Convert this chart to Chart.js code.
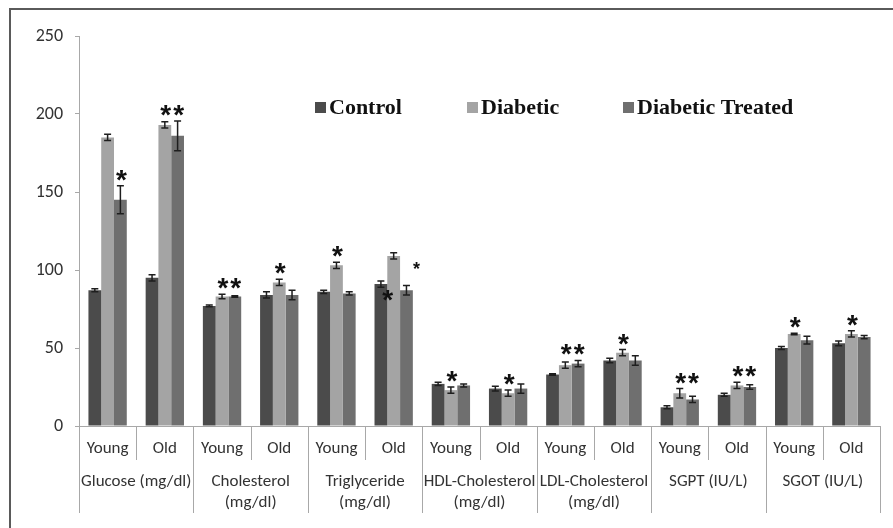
<!DOCTYPE html>
<html>
<head>
<meta charset="utf-8">
<script src="https://cdn.jsdelivr.net/npm/chart.js@4.4.0/dist/chart.umd.min.js"></script>
<style>
body { margin: 0; background: #fff; }
#wrap { position: relative; width: 893px; height: 528px; overflow: hidden; }
#frame { position: absolute; left: 9px; top: 8px; width: 920px; height: 560px; border-left: 2px solid #5a5a5a; border-top: 2px solid #5a5a5a; }
canvas { position: absolute; left: 0; top: 0; }
</style>
</head>
<body>
<div id="wrap"><div id="frame"></div><canvas id="chart" width="893" height="528"></canvas></div>
<script>
// categories
const AGE_LABELS = ['Young', 'Old', 'Young', 'Old', 'Young', 'Old', 'Young', 'Old', 'Young', 'Old', 'Young', 'Old', 'Young', 'Old'];
const GROUP_LABELS = ['Glucose (mg/dl)', ['Cholesterol', '(mg/dl)'], ['Triglyceride', '(mg/dl)'], ['HDL-Cholesterol', '(mg/dl)'], ['LDL-Cholesterol', '(mg/dl)'], 'SGPT (IU/L)', 'SGOT (IU/L)'];
const Y_TICKS = [0, 50, 100, 150, 200, 250];
const SERIES_NAMES = ['Control', 'Diabetic', 'Diabetic Treated'];

// values (mean) and error (+/-)
const CONTROL = [87, 95, 77, 84, 86, 91, 27, 24, 33, 42, 12, 20, 50, 53];
const CONTROL_ERR = [1, 2, 0.5, 2, 1, 2, 1, 1.5, 0.5, 1.5, 1, 1, 1, 1.5];
const DIABETIC = [185, 193, 83, 92, 103, 109, 23, 21, 39, 47, 21, 26, 59, 59];
const DIABETIC_ERR = [2, 2, 1.5, 2, 2, 2, 2, 2, 2, 2, 3, 2, 0.5, 2];
const TREATED = [145, 186, 83, 84, 85, 87, 26, 24, 40, 42, 17, 25, 55, 57];
const TREATED_ERR = [9, 9.5, 0.5, 3, 1, 3, 1, 3, 2, 3, 2, 1.5, 2.5, 1];

// significance marks
const CONTROL_STARS = ['', '', '', '', '', '', '', '', '', '', '', '', '', ''];
const DIABETIC_STARS = ['', '*', '*', '*', '*', '', '*', '*', '*', '*', '*', '*', '*', '*'];
const TREATED_STARS = ['*', '*', '*', '', '', '', '', '', '*', '', '*', '*', '', ''];
// odd ones on Triglyceride / Old: [category, series, value]
const EXTRA_STARS = [[5, 1, 85, 'big'], [5, 2, 103, 'small']];

const COLORS = ['#4b4b4b', '#a4a4a4', '#6f6f6f'];
const FONT = "Carlito, Lato, 'Open Sans', sans-serif";

let errors = [CONTROL_ERR, DIABETIC_ERR, TREATED_ERR];
let stars = [CONTROL_STARS, DIABETIC_STARS, TREATED_STARS];

const errorBars = {
    id: 'errorBars',
    afterDatasetsDraw(chart) {
        let ctx = chart.ctx;
        let y = chart.scales.y;
        ctx.save();
        ctx.strokeStyle = '#1e1e1e';
        ctx.lineWidth = 1.5;
        for (let d = 0; d < chart.data.datasets.length; d++) {
            let meta = chart.getDatasetMeta(d);
            let values = chart.data.datasets[d].data;
            for (let i = 0; i < meta.data.length; i++) {
                let bar = meta.data[i];
                let top = y.getPixelForValue(values[i] + errors[d][i]);
                let bot = y.getPixelForValue(values[i] - errors[d][i]);
                ctx.beginPath();
                ctx.moveTo(bar.x, top); ctx.lineTo(bar.x, bot);
                ctx.moveTo(bar.x - 3.5, top); ctx.lineTo(bar.x + 3.5, top);
                ctx.moveTo(bar.x - 3.5, bot); ctx.lineTo(bar.x + 3.5, bot);
                ctx.stroke();
            }
        }

        // asterisks - all stars of one category sit at the same height
        ctx.fillStyle = '#111';
        ctx.textAlign = 'center';
        ctx.textBaseline = 'alphabetic';
        ctx.font = "bold 28px 'Liberation Sans'";
        for (let i = 0; i < AGE_LABELS.length; i++) {
            let highest = null;
            for (let d = 0; d < stars.length; d++) {
                if (stars[d][i] == '') continue;
                let top = y.getPixelForValue(chart.data.datasets[d].data[i] + errors[d][i]);
                if (highest == null || top < highest) highest = top;
            }
            if (highest == null) continue;
            for (let d = 0; d < stars.length; d++) {
                if (stars[d][i] == '') continue;
                let bar = chart.getDatasetMeta(d).data[i];
                ctx.fillText(stars[d][i], bar.x + 1, highest - 13 + 16);
            }
        }
        for (let s of EXTRA_STARS) {
            let bar = chart.getDatasetMeta(s[1]).data[s[0]];
            let py = y.getPixelForValue(s[2]);
            if (s[3] == 'big') {
                ctx.font = "bold 28px 'Liberation Sans'";
                ctx.fillText('*', bar.x - 6, py + 16);
            } else {
                ctx.font = "bold 18px 'Liberation Sans'";
                ctx.fillText('*', bar.x + 10, py + 10);
            }
        }
        ctx.restore();
    }
};

const axisLines = {
    id: 'axisLines',
    afterDraw(chart) {
        let ctx = chart.ctx;
        let x = chart.scales.x;
        let x2 = chart.scales.x2;
        ctx.save();
        ctx.strokeStyle = '#a8a8a8';
        ctx.lineWidth = 1;
        for (let i = 0; i <= AGE_LABELS.length; i++) {
            let px = Math.round(x.getPixelForValue(i - 0.5)) + 0.5;
            let end = (i % 2 == 0) ? x2.top + 53 : x.bottom;
            ctx.beginPath();
            ctx.moveTo(px, x.top);
            ctx.lineTo(px, end);
            ctx.stroke();
        }
        ctx.restore();
    }
};

const floatLegend = {
    id: 'floatLegend',
    afterDraw(chart) {
        let ctx = chart.ctx;
        let starts = [315, 467, 623];
        ctx.save();
        ctx.font = "bold 22px 'Liberation Serif'";
        ctx.textBaseline = 'middle';
        ctx.textAlign = 'left';
        for (let i = 0; i < SERIES_NAMES.length; i++) {
            ctx.fillStyle = COLORS[i];
            ctx.fillRect(starts[i], 102, 11, 11);
            ctx.fillStyle = '#111';
            ctx.fillText(SERIES_NAMES[i], starts[i] + 14, 108);
        }
        ctx.restore();
    }
};

let seriesData = [CONTROL, DIABETIC, TREATED];
let datasets = [];
for (let i = 0; i < SERIES_NAMES.length; i++) {
    datasets.push({
        label: SERIES_NAMES[i],
        data: seriesData[i],
        backgroundColor: COLORS[i],
        borderWidth: 0,
        categoryPercentage: 0.67,
        barPercentage: 1.0
    });
}

new Chart(document.getElementById('chart'), {
    type: 'bar',
    data: { labels: AGE_LABELS, datasets: datasets },
    plugins: [errorBars, axisLines, floatLegend],
    options: {
        responsive: false,
        animation: false,
        layout: { padding: { top: 36, right: 13, bottom: 8, left: 0 } },
        plugins: { legend: { display: false }, tooltip: { enabled: false } },
        scales: {
            y: {
                min: Y_TICKS[0],
                max: Y_TICKS[Y_TICKS.length - 1],
                afterFit: (scale) => { scale.width = 79; },
                afterBuildTicks: (scale) => { scale.ticks = Y_TICKS.map(v => ({ value: v })); },
                grid: { drawOnChartArea: false, tickLength: 4, color: '#a8a8a8' },
                border: { color: '#a8a8a8' },
                ticks: { padding: 12, color: '#333', font: { family: FONT, size: 18 } }
            },
            x: {
                afterFit: (scale) => { scale.height = 34; },
                grid: { display: false, drawTicks: false },
                border: { color: '#a8a8a8' },
                ticks: { padding: 13, color: '#333', maxRotation: 0, autoSkip: false, font: { family: FONT, size: 17 } }
            },
            x2: {
                type: 'category',
                position: 'bottom',
                labels: GROUP_LABELS,
                afterFit: (scale) => { scale.height = 60; },
                grid: { display: false, drawTicks: false },
                border: { display: false },
                ticks: { padding: 11, color: '#333', maxRotation: 0, autoSkip: false, font: { family: FONT, size: 17, lineHeight: 1.25 } }
            }
        }
    }
});
</script>
</body>
</html>
